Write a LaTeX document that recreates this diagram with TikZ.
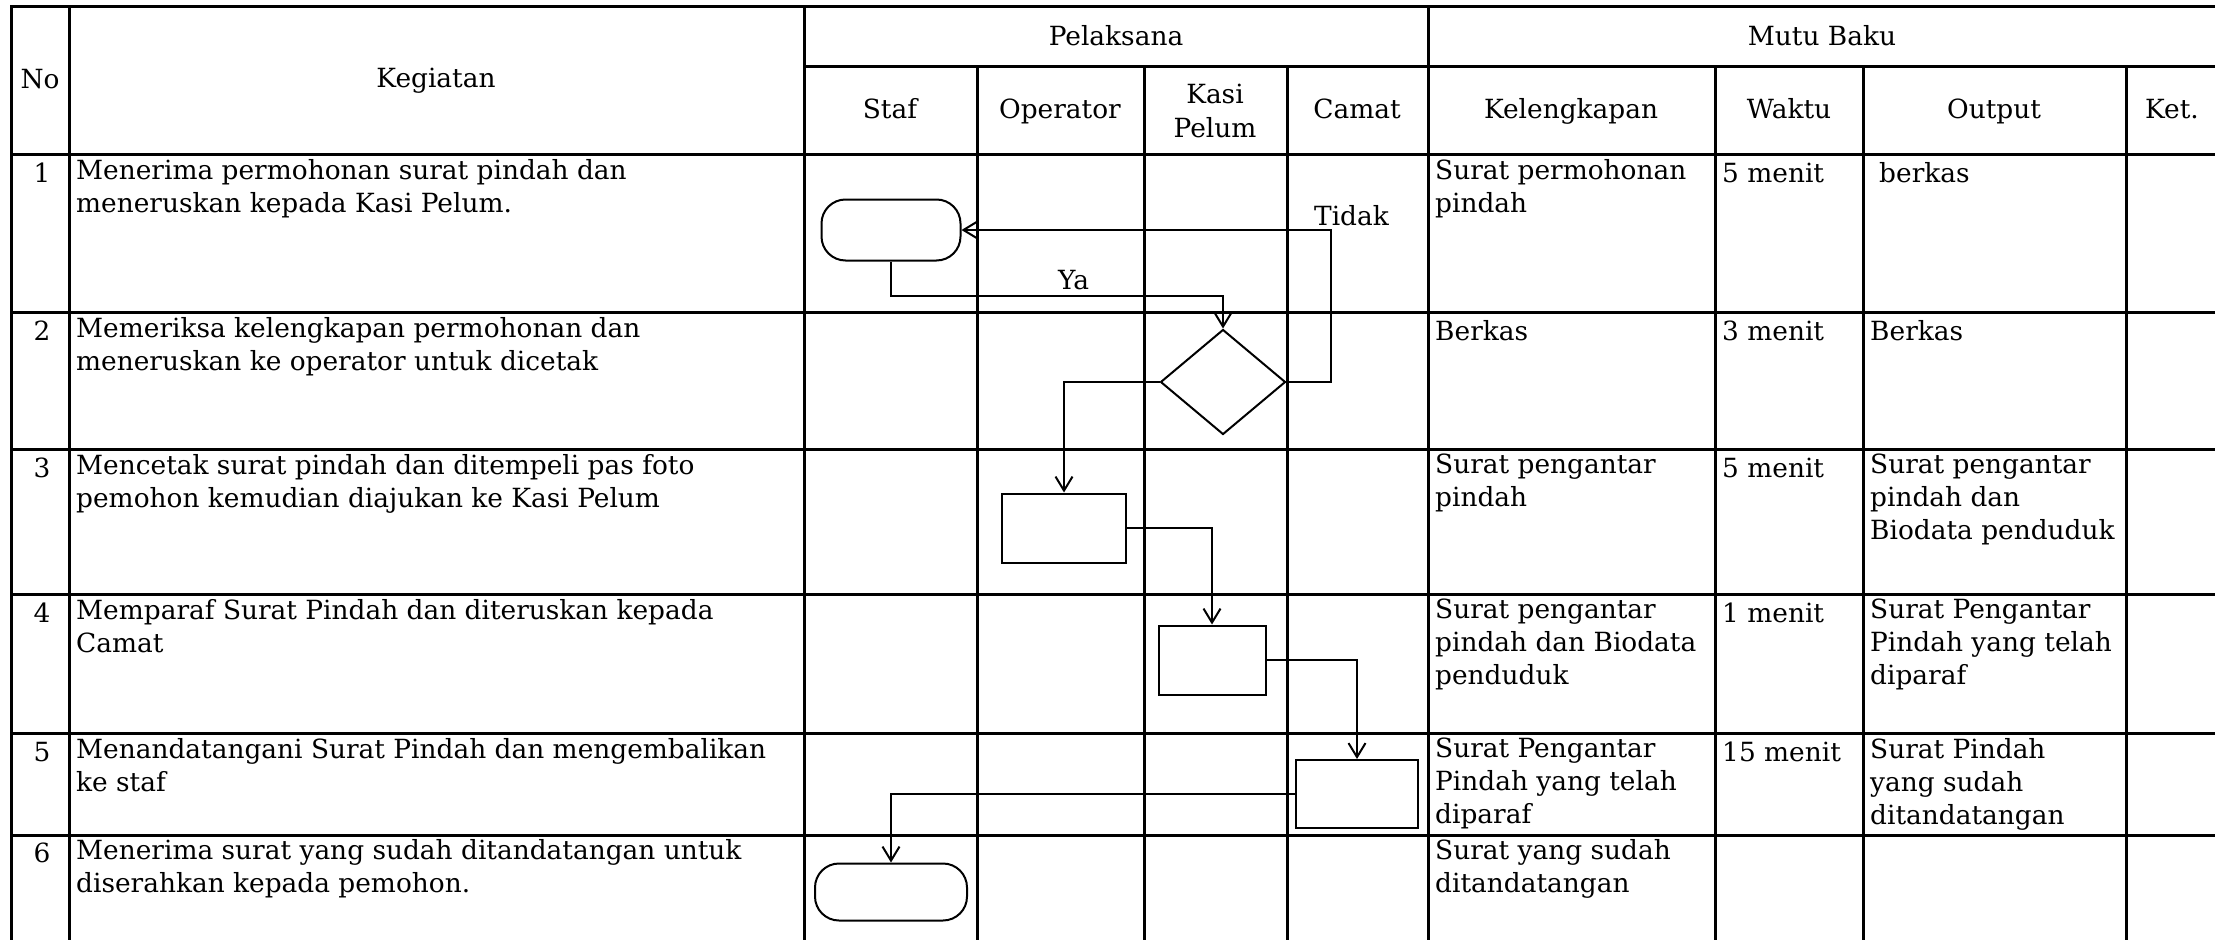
\documentclass[tikz,border=0pt]{standalone}
\usepackage{fontspec}
\setmainfont{DejaVu Serif}
\usetikzlibrary{shapes.geometric, arrows.meta}

\begin{document}
\begin{tikzpicture}[x=1pt, y=-1pt, font=\fontsize{26.4}{33}\selectfont,
    tabel/.style = {line width=3pt},
    alur/.style = {line width=2pt, -{Straight Barb[length=14pt, width=17pt]}},
    mulai/.style = {draw, line width=2pt, rounded corners=24pt, inner sep=0pt, fill=white},
    proses/.style = {draw, line width=2pt, rectangle, inner sep=0pt, fill=white},
    keputusan/.style = {draw, line width=2pt, diamond, inner sep=0pt, fill=white},
    isi/.style = {anchor=north west, align=left, inner sep=0pt, execute at begin node=\strut},
    judul/.style = {anchor=base, align=center, inner sep=0pt}]
    \useasboundingbox (0,0) rectangle (2215,939);
    % garis tabel
    \draw[tabel] (11,7) rectangle (2217,960);
    \draw[tabel] (804,67) -- (2217,67);
    \foreach \y in {154,312,449,594,733,835}
        \draw[tabel] (11,\y) -- (2217,\y);
    \foreach \x in {69,804,1428}
        \draw[tabel] (\x,7) -- (\x,960);
    \foreach \x in {977,1144,1287,1715,1863,2126}
        \draw[tabel] (\x,67) -- (\x,960);
    % judul kolom
    \node[judul] (no) at (40,89) {No};
    \node[judul] (keg) at (436,88) {Kegiatan};
    \node[judul] (pel) at (1116,46) {Pelaksana};
    \node[judul] (mutu) at (1822,46) {Mutu Baku};
    \node[judul] (staf) at (890,119) {Staf};
    \node[judul] (opr) at (1060,119) {Operator};
    \node[judul] (kasi) at (1215,137) {Kasi\\Pelum};
    \node[judul] (camat) at (1357,119) {Camat};
    \node[judul] (lengkap) at (1571,119) {Kelengkapan};
    \node[judul] (waktu) at (1789,119) {Waktu};
    \node[judul] (output) at (1994,119) {Output};
    \node[judul] (ket) at (2172,119) {Ket.};
    % baris 1
    \node[judul] (no1) at (42,182) {1};
    \node[isi] (keg1) at (76,159) {Menerima permohonan surat pindah dan\\meneruskan kepada Kasi Pelum.};
    \node[isi] (lengkap1) at (1435,159) {Surat permohonan\\pindah};
    \node[isi] (waktu1) at (1722,159) {5 menit};
    \node[isi] (out1) at (1879,159) {berkas};
    % baris 2
    \node[judul] (no2) at (42,340) {2};
    \node[isi] (keg2) at (76,317) {Memeriksa kelengkapan permohonan dan\\meneruskan ke operator untuk dicetak};
    \node[isi] (lengkap2) at (1435,317) {Berkas};
    \node[isi] (waktu2) at (1722,317) {3 menit};
    \node[isi] (out2) at (1870,317) {Berkas};
    % baris 3
    \node[judul] (no3) at (42,477) {3};
    \node[isi] (keg3) at (76,454) {Mencetak surat pindah dan ditempeli pas foto\\pemohon kemudian diajukan ke Kasi Pelum};
    \node[isi] (lengkap3) at (1435,454) {Surat pengantar\\pindah};
    \node[isi] (waktu3) at (1722,454) {5 menit};
    \node[isi] (out3) at (1870,454) {Surat pengantar\\pindah dan\\Biodata penduduk};
    % baris 4
    \node[judul] (no4) at (42,622) {4};
    \node[isi] (keg4) at (76,599) {Memparaf Surat Pindah dan diteruskan kepada\\Camat};
    \node[isi] (lengkap4) at (1435,599) {Surat pengantar\\pindah dan Biodata\\penduduk};
    \node[isi] (waktu4) at (1722,599) {1 menit};
    \node[isi] (out4) at (1870,599) {Surat Pengantar\\Pindah yang telah\\diparaf};
    % baris 5
    \node[judul] (no5) at (42,761) {5};
    \node[isi] (keg5) at (76,738) {Menandatangani Surat Pindah dan mengembalikan\\ke staf};
    \node[isi] (lengkap5) at (1435,738) {Surat Pengantar\\Pindah yang telah\\diparaf};
    \node[isi] (waktu5) at (1722,738) {15 menit};
    \node[isi] (out5) at (1870,738) {Surat Pindah\\yang sudah\\ditandatangan};
    % baris 6
    \node[judul] (no6) at (42,862) {6};
    \node[isi] (keg6) at (76,839) {Menerima surat yang sudah ditandatangan untuk\\diserahkan kepada pemohon.};
    \node[isi] (lengkap6) at (1435,839) {Surat yang sudah\\ditandatangan};
    % bagan alir
    \node[mulai, minimum width=139pt, minimum height=61pt] (mulai) at (891,230) {};
    \node[keputusan, minimum width=125pt, minimum height=105pt] (cek) at (1223,382) {};
    \node[proses, minimum width=124pt, minimum height=69pt] (cetak) at (1064,528) {};
    \node[proses, minimum width=107pt, minimum height=69pt] (paraf) at (1212,660) {};
    \node[proses, minimum width=122pt, minimum height=68pt] (ttd) at (1357,794) {};
    \node[mulai, minimum width=152pt, minimum height=57pt] (selesai) at (891,892) {};
    \draw[alur] (mulai.south) -- ++(0,34) -| node[pos=.275, anchor=base, yshift=6pt] {Ya} (cek.north);
    \draw[alur] (cek.east) -- ++(44,0) |- node[pos=.5, anchor=base, xshift=21pt, yshift=5pt] {Tidak} (mulai.east);
    \draw[alur] (cek.west) -| (cetak.north);
    \draw[alur] (cetak.east) -| (paraf.north);
    \draw[alur] (paraf.east) -| (ttd.north);
    \draw[alur] (ttd.west) -| (selesai.north);
\end{tikzpicture}
\end{document}
